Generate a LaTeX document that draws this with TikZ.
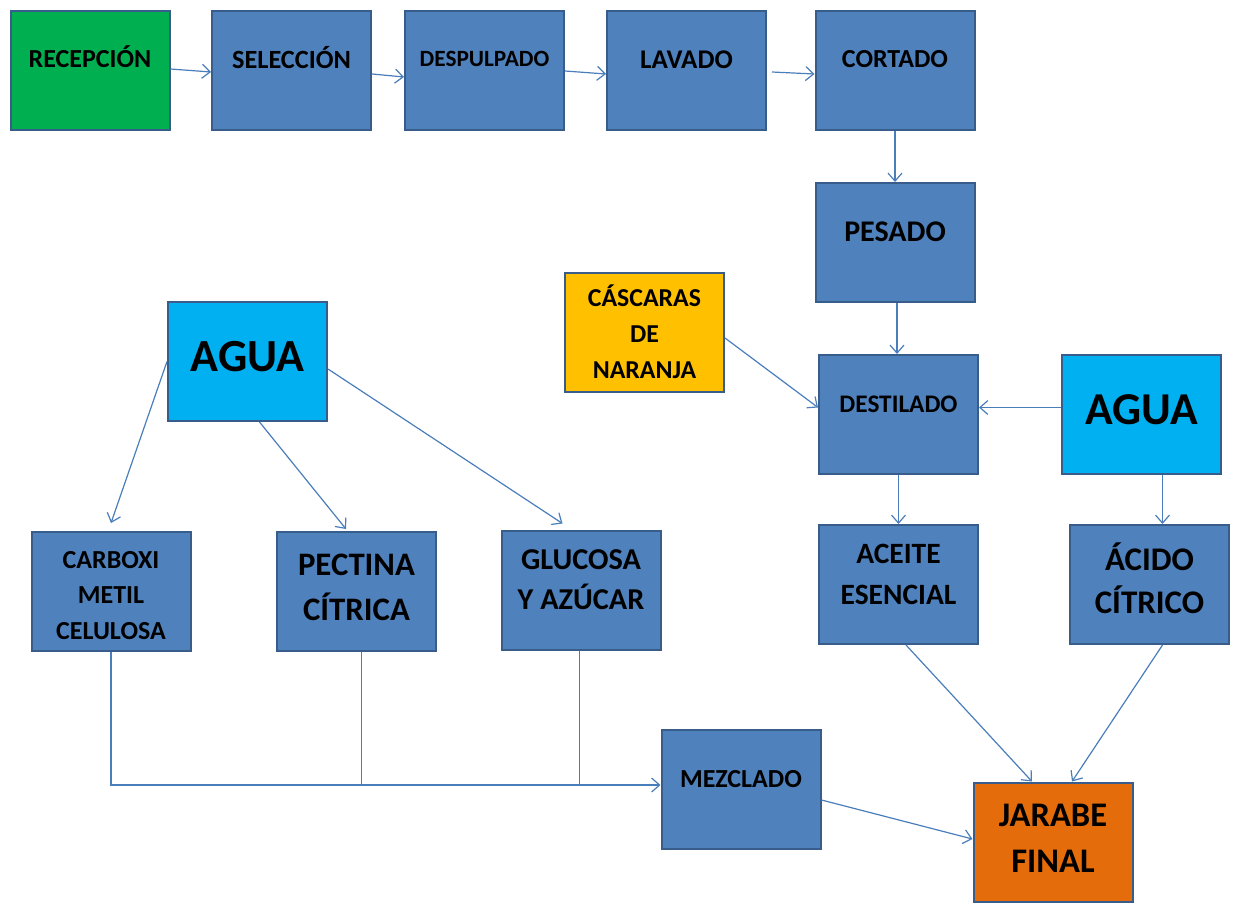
\documentclass[tikz,border=0pt]{standalone}
\usepackage{fontspec}
\setmainfont{Carlito}
\usepackage{tikz}
\usetikzlibrary{positioning}
\usetikzlibrary{arrows.meta}

\definecolor{boxblue}{HTML}{4F81BD}
\definecolor{boxedge}{HTML}{385D8A}
\definecolor{recgreen}{HTML}{00B050}
\definecolor{peelyellow}{HTML}{FFC000}
\definecolor{aguacyan}{HTML}{00B0F0}
\definecolor{syruporange}{HTML}{E46C0A}
\definecolor{linkblue}{HTML}{4A7EBB}

% text sits a little above the middle of each box
\newcommand{\liftlabel}[2]{\raisebox{\dimexpr #1pt-0.566em+0.2\baselineskip\relax}[0pt][0pt]{\begin{tabular}{@{}c@{}}#2\end{tabular}}}

\begin{document}
\begin{tikzpicture}[x=1pt,y=-1pt,->,>={Straight Barb[length=8pt,width=14pt]},
                    main node/.style={rectangle,draw=boxedge,fill=boxblue,line width=2pt,
                      minimum width=159pt,minimum height=119pt,inner sep=0pt,text=black},
                    txt/.style 2 args={font=\bfseries\fontsize{#1}{#2}\selectfont},
                    link/.style={draw=linkblue,line width=1.2pt}]

		\useasboundingbox (0,0) rectangle (1233,902);

		\node[main node,fill=recgreen,txt={26}{36}] (1) at (90,70) {\liftlabel{10.5}{RECEPCIÓN}};
		\node[main node,txt={26.3}{36}] (2) [right=40.5pt of 1] {\liftlabel{10.5}{SELECCIÓN}};
		\node[main node,txt={23.3}{32}] (3) [right=32pt of 2] {\liftlabel{10.5}{DESPULPADO}};
		\node[main node,txt={27}{37}] (4) [right=41pt of 3] {\liftlabel{10.5}{LAVADO}};
		\node[main node,txt={26}{37}] (5) [right=47.5pt of 4] {\liftlabel{10.5}{CORTADO}};
		\node[main node,txt={30}{42}] (6) [below=51.5pt of 5] {\liftlabel{11.5}{PESADO}};
		\node[main node,fill=peelyellow,txt={25.8}{36}] (7) at (644.5,332.5) {\liftlabel{-2}{CÁSCARAS\\DE\\NARANJA}};
		\node[main node,txt={25.3}{35}] (8) [below=51pt of 6,xshift=3.5pt] {\liftlabel{10.5}{DESTILADO}};
		\node[main node,fill=aguacyan,txt={45.6}{60}] (9) [right=82pt of 8] {\liftlabel{10}{AGUA}};
		\node[main node,txt={29.5}{41}] (10) [below=49pt of 8] {\liftlabel{11}{ACEITE\\ESENCIAL}};
		\node[main node,txt={33}{43}] (11) [right=90pt of 10] {\liftlabel{4.5}{ÁCIDO\\CÍTRICO}};

		\node[main node,fill=aguacyan,txt={46}{60}] (12) at (247.5,361.5) {\liftlabel{9.5}{AGUA}};
		\node[main node,txt={26}{35.5}] (13) at (111,591.5) {\liftlabel{-3.5}{CARBOXI\\METIL\\CELULOSA}};
		\node[main node,txt={32.8}{45}] (14) [right=84.5pt of 13] {\liftlabel{6}{PECTINA\\CÍTRICA}};
		\node[main node,txt={30.3}{40}] (15) at (581,590) {\liftlabel{11.5}{GLUCOSA\\Y AZÚCAR}};
		\node[main node,txt={26}{36}] (16) at (741,789.5) {\liftlabel{10.5}{MEZCLADO}};
		\node[main node,fill=syruporange,txt={34.5}{46}] (17) at (1053,842) {\liftlabel{5.5}{JARABE\\FINAL}};

		\path[every edge/.style={link}]
		([yshift=1]1.east) edge ([yshift=-2]2.west)
		([yshift=-4]2.east) edge ([yshift=-7]3.west)
		([yshift=-1]3.east) edge ([yshift=-4]4.west)
		([xshift=5,yshift=-2]4.east) edge ([yshift=-4]5.west)
		(5) edge (6)
		([xshift=2]6.south) edge ([xshift=2]6.south |- 8.north)
		([yshift=-5.5]7.east) edge ([yshift=7]8.west)
		([yshift=7]9.west) edge ([yshift=7]8.east)
		(8) edge (10)
		([xshift=21]9.south) edge ([xshift=21]9.south |- 11.north)
		([xshift=7.5]10.south) edge ([xshift=-21]17.north)
		([xshift=13]11.south) edge ([xshift=19]17.north)
		([yshift=-10.5]16.east) edge ([yshift=3]17.west)
		(12.west) edge ([yshift=8]13.north)
		([xshift=12]12.south) edge ([xshift=-10.5,yshift=2]14.north)
		([yshift=-7.5]12.east) edge ([xshift=-18.5,yshift=6]15.north);

		% the three ingredients join into one line
		\coordinate (m) at ([yshift=4.5]16.west);
		\draw[link] (13.south) |- (m);
		\draw[link,-] ([xshift=5]14.south) -- ([xshift=5]14.south |- m);
		\draw[link,-] ([xshift=-1.5]15.south) -- ([xshift=-1.5]15.south |- m);
	\end{tikzpicture}
\end{document}
